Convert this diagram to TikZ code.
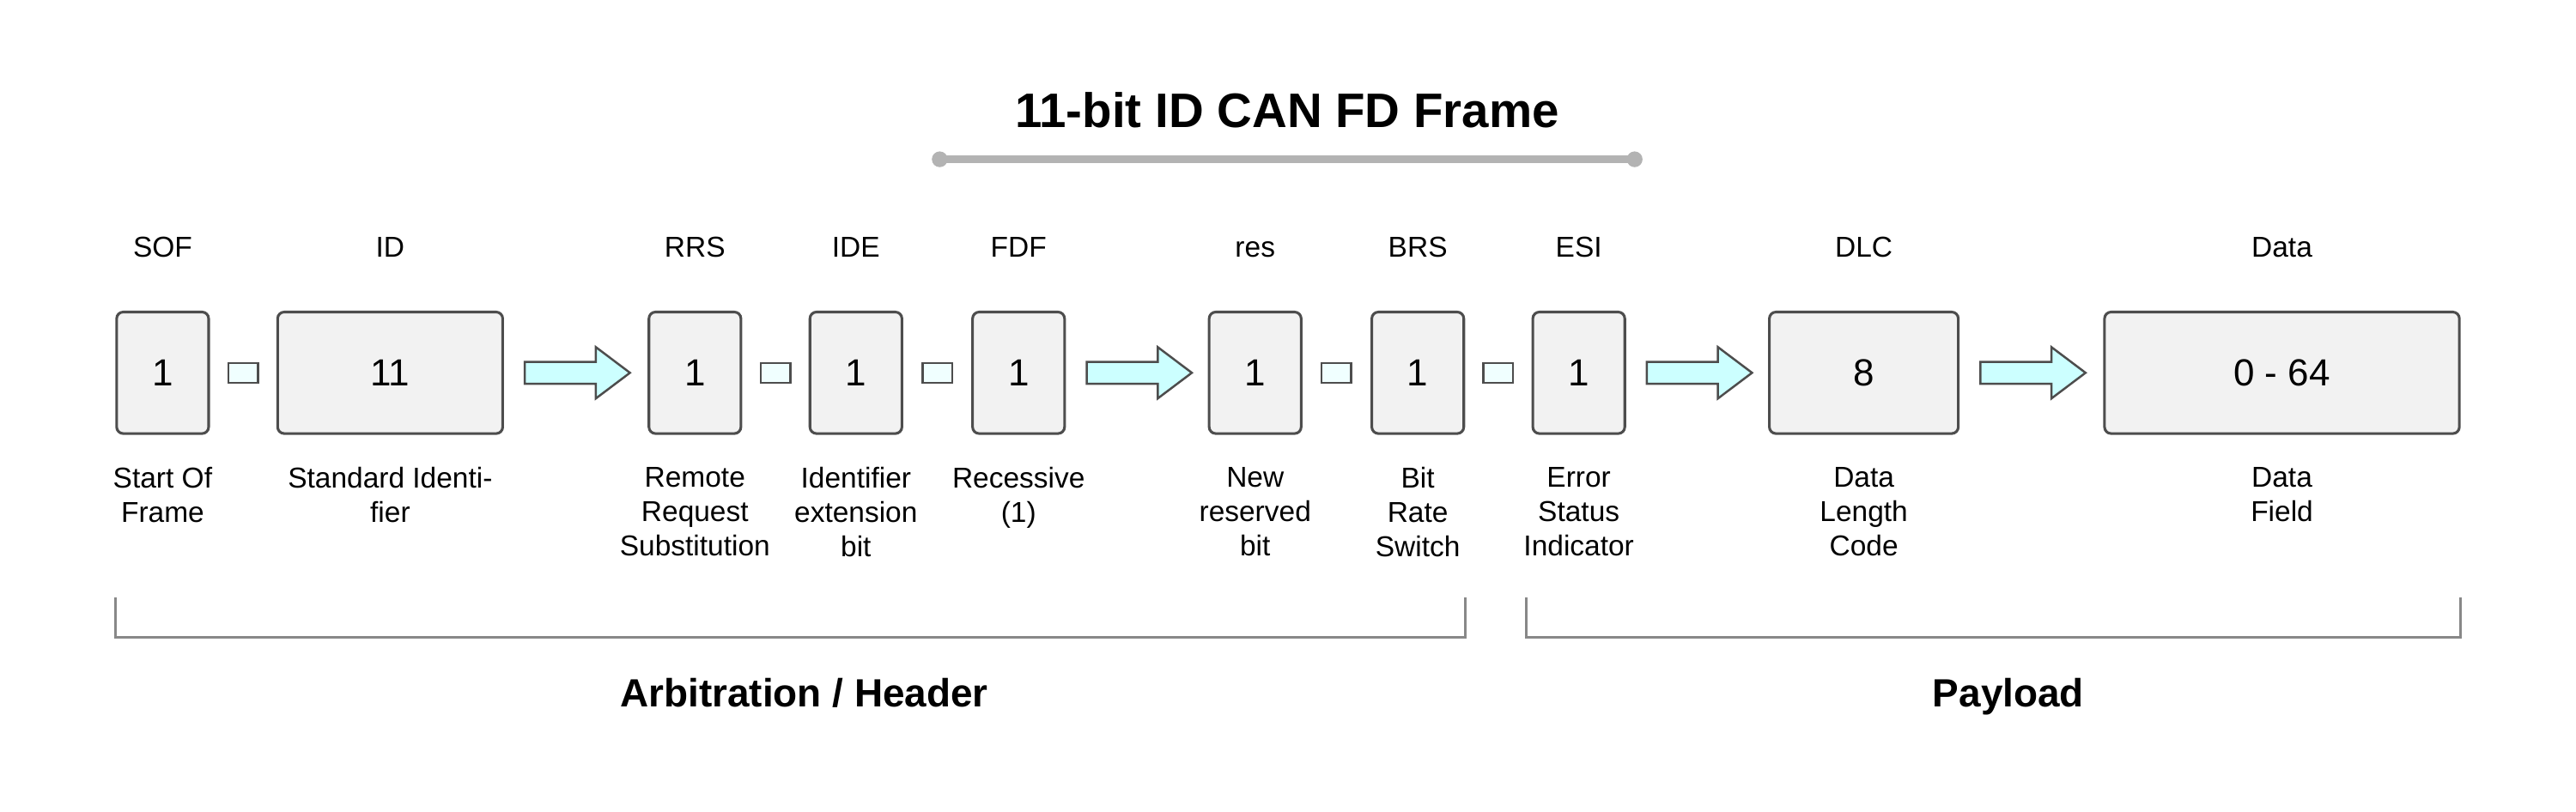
\documentclass[tikz,border=0pt]{standalone}
\usepackage{fontspec}
\setmainfont{Liberation Sans}
\usetikzlibrary{shapes,arrows,positioning,calc}

\definecolor{fieldfill}{HTML}{F2F2F2}
\definecolor{fielddraw}{HTML}{4D4D4D}
\definecolor{gapfill}{HTML}{F0FFFF}
\definecolor{arrowfill}{HTML}{CCFFFF}
\definecolor{bracketgray}{HTML}{888888}
\definecolor{rulegray}{HTML}{B3B3B3}

\begin{document}
\begin{tikzpicture}[x=1pt,y=1pt,
    field/.style={draw=fielddraw, fill=fieldfill, line width=1.6pt, rounded corners=4pt,
      minimum height=74pt, inner sep=0pt, node font=\fontsize{23}{28}\selectfont},
    gapbox/.style={draw=fielddraw, fill=gapfill, line width=1.3pt, minimum width=18pt,
      minimum height=12pt, inner sep=0pt},
    blockarrow/.style={single arrow, draw=fielddraw, fill=arrowfill, line width=1.3pt,
      minimum height=64pt, inner xsep=0pt, inner ysep=6pt, single arrow head extend=9pt,
      single arrow tip angle=74, anchor=tail},
    fieldname/.style={anchor=base, inner sep=0pt, node font=\fontsize{17.5}{21}\selectfont},
    fielddesc/.style={anchor=north, inner sep=0pt, align=center, node font=\fontsize{17.5}{21}\selectfont},
    grouptitle/.style={anchor=base, inner sep=0pt, node font=\fontsize{24}{29}\selectfont\bfseries},
    bracket/.style={draw=bracketgray, line width=1.6pt}]
    \useasboundingbox (0,0) rectangle (1568,-494.4);
    %
    \node[anchor=base, inner sep=0pt, node font=\fontsize{29.5}{35}\selectfont\bfseries] (title) at (783.5,-77.5) {11-bit ID CAN FD Frame};
    \coordinate (rulel) at (572,-97);
    \coordinate (ruler) at (995,-97);
    \draw[rulegray, line width=4.5pt, line cap=round] (rulel) -- (ruler);
    \fill[rulegray] (rulel) circle [radius=4.8] (ruler) circle [radius=4.8];
    %
    \node[field, minimum width=56pt] (sof) at (99,-227) {1};
    \node[field, minimum width=137pt] (id) at (237.5,-227) {11};
    \node[field, minimum width=56pt] (rrs) at (423,-227) {1};
    \node[field, minimum width=56pt] (ide) at (521,-227) {1};
    \node[field, minimum width=56pt] (fdf) at (620,-227) {1};
    \node[field, minimum width=56pt] (res) at (764,-227) {1};
    \node[field, minimum width=56pt] (brs) at (863,-227) {1};
    \node[field, minimum width=56pt] (esi) at (961,-227) {1};
    \node[field, minimum width=115pt] (dlc) at (1134.5,-227) {8};
    \node[field, minimum width=216pt] (data) at (1389,-227) {0 - 64};
    %
    \node[gapbox] (g1) at ($(sof.east)!0.5!(id.west)$) {};
    \node[gapbox] (g2) at ($(rrs.east)!0.5!(ide.west)$) {};
    \node[gapbox] (g3) at ($(ide.east)!0.5!(fdf.west)$) {};
    \node[gapbox] (g4) at ($(res.east)!0.5!(brs.west)$) {};
    \node[gapbox] (g5) at ($(brs.east)!0.5!(esi.west)$) {};
    %
    \node[blockarrow] (a1) at ([xshift=12pt]id.east) {};
    \node[blockarrow] (a2) at ([xshift=12pt]fdf.east) {};
    \node[blockarrow] (a3) at ([xshift=12pt]esi.east) {};
    \node[blockarrow] (a4) at ([xshift=12pt]dlc.east) {};
    %
    \coordinate (toprow) at (0,-156.3);
    \node[fieldname] (sofname) at (sof |- toprow) {SOF};
    \node[fieldname] (idname) at (id |- toprow) {ID};
    \node[fieldname] (rrsname) at (rrs |- toprow) {RRS};
    \node[fieldname] (idename) at (ide |- toprow) {IDE};
    \node[fieldname] (fdfname) at (fdf |- toprow) {FDF};
    \node[fieldname] (resname) at (res |- toprow) {res};
    \node[fieldname] (brsname) at (brs |- toprow) {BRS};
    \node[fieldname] (esiname) at (esi |- toprow) {ESI};
    \node[fieldname] (dlcname) at (dlc |- toprow) {DLC};
    \node[fieldname] (dataname) at (data |- toprow) {Data};
    %
    \coordinate (descrow) at (0,-284.3);
    \node[fielddesc] (sofdesc) at (sof |- descrow) {Start Of\\Frame};
    \node[fielddesc] (iddesc) at (id |- descrow) {Standard Identi-\\fier};
    \node[fielddesc] (rrsdesc) at (rrs |- descrow) {Remote\\Request\\Substitution};
    \node[fielddesc] (idedesc) at (ide |- descrow) {Identifier\\extension\\bit};
    \node[fielddesc] (fdfdesc) at (fdf |- descrow) {Recessive\\(1)};
    \node[fielddesc] (resdesc) at (res |- descrow) {New\\reserved\\bit};
    \node[fielddesc] (brsdesc) at (brs |- descrow) {Bit\\Rate\\Switch};
    \node[fielddesc] (esidesc) at (esi |- descrow) {Error\\Status\\Indicator};
    \node[fielddesc] (dlcdesc) at (dlc |- descrow) {Data\\Length\\Code};
    \node[fielddesc] (datadesc) at (data |- descrow) {Data\\Field};
    %
    \coordinate (brtop) at (0,-364);
    \coordinate (brbot) at (0,-388);
    \draw[bracket] (sof.west |- brtop) |- (brs.east |- brbot) -- (brs.east |- brtop);
    \draw[bracket] ([xshift=-3pt]esi.west |- brtop) |- (data.east |- brbot) -- (data.east |- brtop);
    \node[grouptitle] (header) at (489.5,-430.6) {Arbitration / Header};
    \node[grouptitle] (payload) at (1222.5,-430.6) {Payload};
  \end{tikzpicture}
\end{document}
